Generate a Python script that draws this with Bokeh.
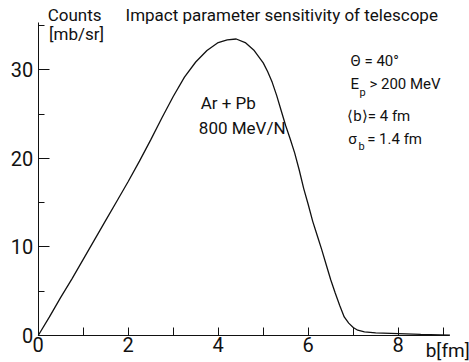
from bokeh.plotting import figure
from bokeh.models import FixedTicker, Label, Range1d
from bokeh.embed import file_html
from bokeh.resources import INLINE

# Data
b_fm = [0, 0.25, 0.5, 0.75, 1.0, 1.25, 1.5, 1.75, 2.0, 2.25, 2.5, 2.75, 3.0,
        3.25, 3.5, 3.75, 4.0, 4.2, 4.4, 4.6, 4.8, 5.0, 5.1, 5.2, 5.3, 5.4,
        5.5, 5.6, 5.7, 5.8, 5.9, 6.0, 6.1, 6.2, 6.3, 6.4, 6.5, 6.6, 6.7, 6.8,
        6.9, 7.0, 7.1, 7.25, 7.5, 8.0, 8.5, 9.15]
counts = [0, 2.1, 4.3, 6.4, 8.6, 10.8, 13.0, 15.2, 17.4, 19.7, 22.1, 24.6,
          27.0, 29.2, 30.9, 32.2, 33.1, 33.4, 33.5, 33.1, 32.2, 30.8, 29.8,
          28.6, 27.1, 25.4, 23.7, 22.2, 20.6, 18.7, 16.6, 14.8, 12.9, 11.3,
          9.7, 8.0, 6.3, 4.8, 3.4, 2.1, 1.4, 0.9, 0.6, 0.42, 0.3, 0.22, 0.12,
          0.05]

x_major = [0, 2, 4, 6, 8]
x_minor = [1, 3, 5, 7, 9]
y_major = [0, 10, 20, 30]
y_minor = [5, 15, 25, 35]
x_axis_end = 9.15
y_axis_end = 35.4

FONT = "Roboto"
INK = "#111111"

# frame fills the whole canvas; axes sit at x=0 and y=0
p = figure(width=469, height=362, output_backend="svg", toolbar_location=None,
           x_range=Range1d(-0.838, 9.584), y_range=Range1d(-3.05, 37.85),
           min_border_left=0, min_border_right=0, min_border_top=0,
           min_border_bottom=0)
p.outline_line_color = None
p.grid.visible = False
p.background_fill_color = "white"
p.border_fill_color = "white"

p.line(b_fm, counts, line_color=INK, line_width=1.3)

xa = p.xaxis[0]
xa.fixed_location = 0
xa.bounds = (0, x_axis_end)
xa.ticker = FixedTicker(ticks=x_major, minor_ticks=x_minor)
xa.major_tick_in = 8
xa.major_tick_out = 0
xa.minor_tick_in = 8
xa.minor_tick_out = 0
xa.axis_line_color = INK
xa.major_tick_line_color = INK
xa.minor_tick_line_color = INK
xa.major_label_text_font = FONT
xa.major_label_text_font_size = "20px"
xa.major_label_text_color = INK
xa.major_label_standoff = 1

ya = p.yaxis[0]
ya.fixed_location = 0
ya.bounds = (0, y_axis_end)
ya.ticker = FixedTicker(ticks=y_major, minor_ticks=y_minor)
ya.major_tick_in = 11
ya.major_tick_out = 0
ya.minor_tick_in = 6
ya.minor_tick_out = 0
ya.axis_line_color = INK
ya.major_tick_line_color = INK
ya.minor_tick_line_color = INK
ya.major_label_text_font = FONT
ya.major_label_text_font_size = "20px"
ya.major_label_text_color = INK
ya.major_label_standoff = 5


def add_label(x, y, text, size, align="left"):
    p.add_layout(Label(x=x, y=y, text=text, text_font=FONT,
                       text_font_size=size, text_color=INK,
                       text_align=align, text_baseline="middle"))


add_label(1.94, 36.2, "Impact parameter sensitivity of telescope", "17px")
add_label(0.21, 36.25, "Counts", "17px")
add_label(0.24, 34.1, "[mb/sr]", "17px")
add_label(8.61, -1.69, "b[fm]", "19px")

add_label(3.61, 26.3, "Ar + Pb", "17px")
add_label(3.57, 23.5, "800 MeV/N", "17px")

add_label(6.94, 31.07, "Θ = 40°", "15px")
add_label(6.94, 28.36, "E", "15px")
add_label(7.14, 27.45, "p", "11px")
add_label(7.36, 28.36, "> 200 MeV", "15px")
add_label(6.87, 24.8, "⟨b⟩= 4 fm", "15px")
add_label(6.89, 22.15, "σ", "15px")
add_label(7.12, 21.35, "b", "11px")
add_label(7.31, 22.15, "= 1.4 fm", "15px")

open("out.html", "w").write(file_html(p, INLINE))
